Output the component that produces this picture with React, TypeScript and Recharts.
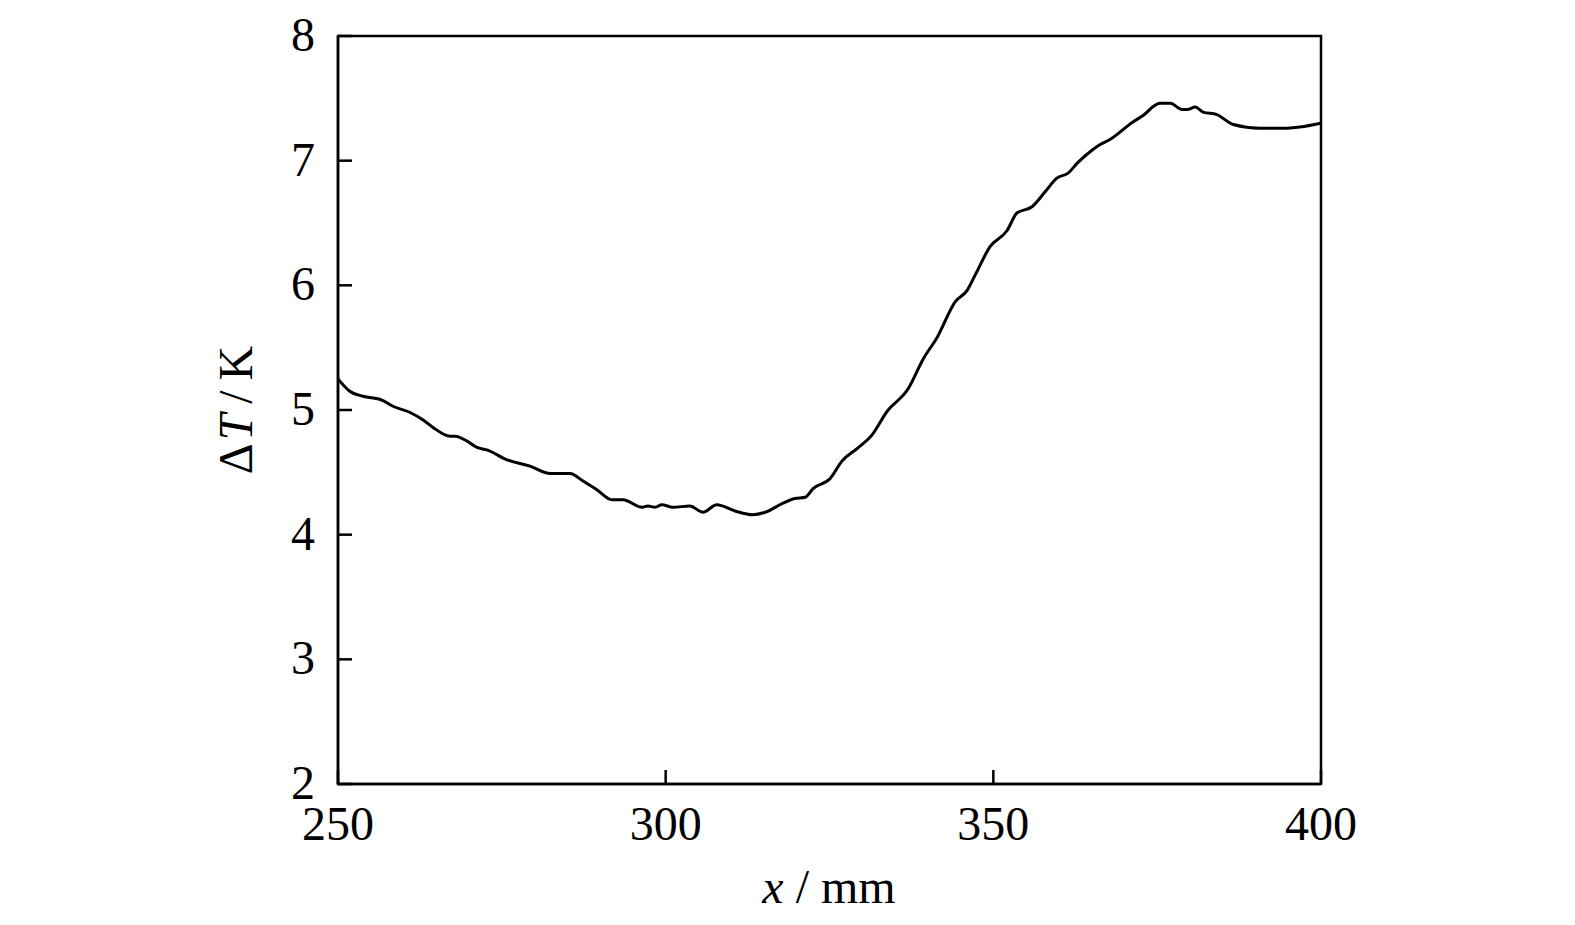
import React from "react";
import { LineChart, Line, XAxis, YAxis, ReferenceArea } from "recharts";

const xValues: number[] = [
  250.0, 251.8, 253.8, 256.7, 258.4, 261.0, 263.0, 264.5, 267.1, 267.9, 269.7, 271.2, 272.7,
  275.8, 279.3, 282.4, 285.4, 287.4, 289.5, 291.8, 293.5, 296.4, 297.3, 298.4, 299.4, 301.1,
  303.7, 305.7, 307.8, 310.6, 313.3, 315.2, 317.8, 319.7, 321.3, 322.5, 325.1, 326.9, 329.2,
  331.5, 333.8, 337.0, 339.3, 341.4, 344.2, 346.0, 347.2, 349.5, 352.1, 353.6, 355.9, 357.9,
  359.7, 361.4, 362.8, 365.2, 366.3, 367.8, 371.3, 372.8, 375.4, 377.0, 378.8, 379.6, 380.8,
  382.0, 384.1, 386.6, 390.7, 394.2, 396.8, 400.0,
];
const dtValues: number[] = [
  5.25, 5.15, 5.11, 5.08, 5.03, 4.98, 4.92, 4.86, 4.79, 4.79, 4.75, 4.70, 4.68,
  4.60, 4.55, 4.49, 4.49, 4.43, 4.36, 4.28, 4.28, 4.22, 4.23, 4.22, 4.24, 4.22,
  4.23, 4.18, 4.24, 4.19, 4.16, 4.18, 4.25, 4.29, 4.30, 4.37, 4.45, 4.59, 4.69,
  4.80, 4.99, 5.17, 5.41, 5.58, 5.87, 5.96, 6.08, 6.31, 6.44, 6.58, 6.63, 6.75,
  6.86, 6.90, 6.98, 7.09, 7.13, 7.17, 7.31, 7.36, 7.46, 7.46, 7.41, 7.41, 7.43,
  7.39, 7.37, 7.29, 7.26, 7.26, 7.27, 7.30,
];
const xTicks: number[] = [250, 300, 350, 400];
const yTicks: number[] = [2, 3, 4, 5, 6, 7, 8];

const data = xValues.map((x, i) => ({ x, dt: dtValues[i] }));

const FONT = "'Liberation Serif', 'DejaVu Serif', serif";
const FS = 48;

const XTick = (props: any) => {
  const { x, y, payload } = props;
  return (
    <g>
      <line x1={x} y1={y} x2={x} y2={y - 14} stroke="#000" strokeWidth={2.5} />
      <text x={x} y={y + 56} textAnchor="middle" fontFamily={FONT} fontSize={FS} fill="#000">
        {payload.value}
      </text>
    </g>
  );
};

const YTick = (props: any) => {
  const { x, y, payload } = props;
  return (
    <g>
      <line x1={x} y1={y} x2={x + 14} y2={y} stroke="#000" strokeWidth={2.5} />
      <text x={x - 23} y={y + 15} textAnchor="end" fontFamily={FONT} fontSize={FS} fill="#000">
        {payload.value}
      </text>
    </g>
  );
};

export default function App() {
  return (
    <LineChart
      width={1559}
      height={909}
      data={data}
      margin={{ top: 28, right: 246, left: 250, bottom: 73 }}
      style={{ background: "#fff" }}
    >
      <ReferenceArea x1={250} x2={400} y1={2} y2={8} fill="none" stroke="#000" strokeWidth={2.5} ifOverflow="visible" />
      <XAxis
        dataKey="x"
        type="number"
        domain={[250, 400]}
        ticks={xTicks}
        tickSize={0}
        tickMargin={0}
        tickLine={false}
        axisLine={{ stroke: "#000", strokeWidth: 2.5 }}
        tick={<XTick />}
        height={60}
        interval={0}
        label={{
          content: () => (
            <text x={821} y={895} textAnchor="middle" fontFamily={FONT} fontSize={FS} fill="#000">
              <tspan fontStyle="italic">x</tspan>
              <tspan dx={12}>/</tspan>
              <tspan dx={12}>mm</tspan>
            </text>
          ),
        }}
      />
      <YAxis
        type="number"
        domain={[2, 8]}
        ticks={yTicks}
        tickSize={0}
        tickMargin={0}
        tickLine={false}
        axisLine={{ stroke: "#000", strokeWidth: 2.5 }}
        tick={<YTick />}
        width={80}
        interval={0}
        label={{
          content: () => (
            <text
              x={244}
              y={402}
              textAnchor="middle"
              fontFamily={FONT}
              fontSize={FS}
              fill="#000"
              transform="rotate(-90 244 402)"
            >
              Δ<tspan fontStyle="italic" dx={3}>T</tspan>
              <tspan dx={10}>/</tspan>
              <tspan dx={10}>K</tspan>
            </text>
          ),
        }}
      />
      <Line
        type="monotone"
        dataKey="dt"
        stroke="#000"
        strokeWidth={3}
        dot={false}
        isAnimationActive={false}
      />
    </LineChart>
  );
}
